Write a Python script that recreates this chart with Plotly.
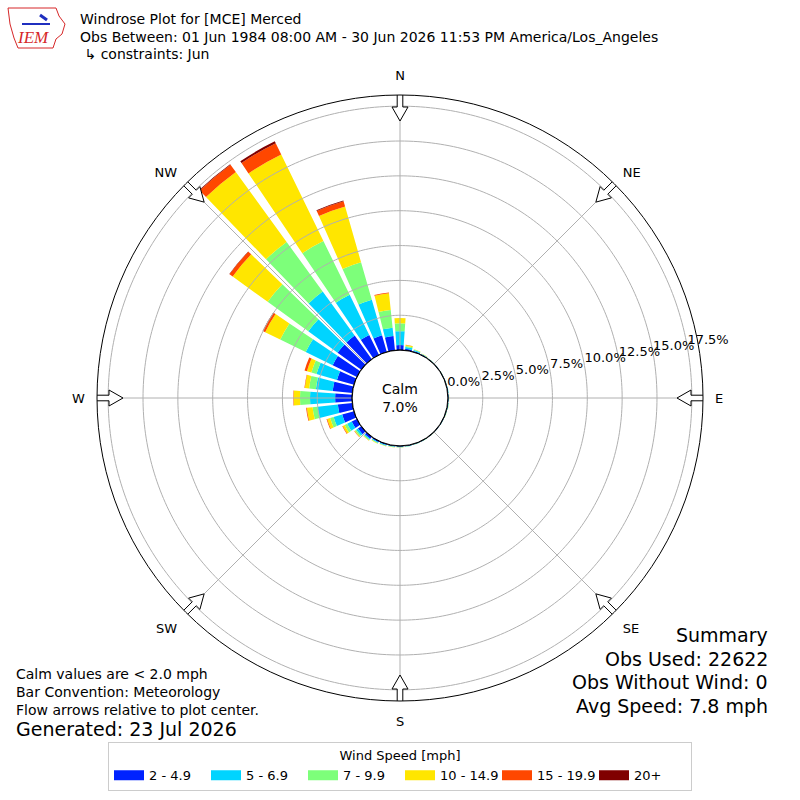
import numpy as np
import plotly.graph_objects as go

# %% data read off the reference windrose (percent of observations)
directions = [0, 10, 20, 30, 40, 50, 60, 70, 80, 90, 100, 110,
              120, 130, 140, 150, 160, 170, 180, 190, 200, 210, 220, 230,
              240, 250, 260, 270, 280, 290, 300, 310, 320, 330, 340, 350]

speed_labels = ["2 - 4.9", "5 - 6.9", "7 - 9.9", "10 - 14.9", "15 - 19.9", "20+"]
speed_colors = ["#0022ff", "#00d4ff", "#7dff7a", "#ffe600", "#ff4700", "#800000"]

pct_2_5 = [0.36, 0.12, 0.08, 0.05, 0.03, 0.03, 0.03, 0.03, 0.04, 0.05, 0.05, 0.04,
           0.03, 0.03, 0.03, 0.03, 0.04, 0.05, 0.06, 0.06, 0.08, 0.10, 0.18, 0.30,
           0.42, 0.88, 1.05, 1.22, 1.42, 1.27, 1.94, 2.10, 2.10, 1.60, 1.24, 1.03]
pct_5_7 = [1.00, 0.12, 0.06, 0.03, 0.02, 0.01, 0.01, 0.02, 0.03, 0.03, 0.03, 0.02,
           0.02, 0.01, 0.01, 0.02, 0.02, 0.03, 0.03, 0.04, 0.05, 0.06, 0.08, 0.15,
           0.36, 0.64, 1.46, 1.80, 1.21, 1.53, 2.15, 2.60, 3.90, 3.20, 2.66, 0.61]
pct_7_10 = [0.56, 0.08, 0.04, 0.02, 0.01, 0.01, 0.01, 0.01, 0.01, 0.01, 0.01, 0.01,
            0.01, 0.01, 0.01, 0.01, 0.01, 0.01, 0.02, 0.02, 0.03, 0.03, 0.06, 0.10,
            0.20, 0.26, 0.36, 0.72, 0.49, 0.38, 2.04, 3.60, 4.40, 4.30, 2.80, 1.28]
pct_10_15 = [0.38, 0.07, 0.02, 0.01, 0.00, 0.00, 0.00, 0.00, 0.00, 0.01, 0.01, 0.01,
             0.00, 0.00, 0.00, 0.00, 0.01, 0.01, 0.01, 0.02, 0.02, 0.03, 0.03, 0.05,
             0.15, 0.22, 0.42, 0.46, 0.31, 0.33, 1.20, 3.10, 6.20, 6.90, 4.15, 1.20]
pct_15_20 = [0.00, 0.01, 0.00, 0.00, 0.00, 0.00, 0.00, 0.00, 0.00, 0.00, 0.00, 0.00,
             0.00, 0.00, 0.00, 0.00, 0.00, 0.00, 0.00, 0.00, 0.00, 0.00, 0.01, 0.02,
             0.04, 0.05, 0.05, 0.03, 0.03, 0.18, 0.18, 0.28, 0.65, 0.90, 0.40, 0.06]
pct_20p = [0.00, 0.00, 0.00, 0.00, 0.00, 0.00, 0.00, 0.00, 0.00, 0.00, 0.00, 0.00,
           0.00, 0.00, 0.00, 0.00, 0.00, 0.00, 0.00, 0.00, 0.00, 0.00, 0.00, 0.00,
           0.00, 0.00, 0.00, 0.00, 0.00, 0.00, 0.02, 0.02, 0.05, 0.15, 0.05, 0.00]

compass_angles = [0, 45, 90, 135, 180, 225, 270, 315]
compass_labels = ["N", "NE", "E", "SE", "S", "SW", "W", "NW"]
ring_values = [0, 2.5, 5.0, 7.5, 10.0, 12.5, 15.0, 17.5]

calm_pct = 7.0
summary_lines = ["Summary", "Obs Used: 22622", "Obs Without Wind: 0", "Avg Speed: 7.8 mph"]
notes_lines = ["Calm values are < 2.0 mph", "Bar Convention: Meteorology",
               "Flow arrows relative to plot center."]

# %% geometry
RMAX = 18.3
HOLE = 0.158
R_PX = 303.0
C0 = RMAX * HOLE / (1 - HOLE)          # hole radius in data units
UNIT = (RMAX + C0) / R_PX              # data units per pixel
FONT = "DejaVu Sans"
GRID = "#b0b0b0"


def px(x, y):
    return x / 800, 1 - y / 800


fig = go.Figure()

series = [pct_2_5, pct_5_7, pct_7_10, pct_10_15, pct_15_20, pct_20p]
for label, color, vals in zip(speed_labels, speed_colors, series):
    fig.add_trace(go.Barpolar(
        r=vals, theta=directions, width=8, name=label, showlegend=False,
        marker=dict(color=color, line=dict(width=0)),
    ))
    # legend proxy with a wide swatch like matplotlib's patches
    fig.add_trace(go.Scatterpolar(
        r=[None], theta=[None], mode="lines", name=label,
        line=dict(color=color, width=10),
    ))

# grid rings and spokes drawn on top of the bars (matplotlib style)
circle = np.linspace(0, 360, 361)
for rv in ring_values[1:]:
    fig.add_trace(go.Scatterpolar(
        r=[rv] * len(circle), theta=circle, mode="lines",
        line=dict(color=GRID, width=1), showlegend=False, hoverinfo="skip",
    ))
for ang in compass_angles:
    fig.add_trace(go.Scatterpolar(
        r=[0, RMAX], theta=[ang, ang], mode="lines",
        line=dict(color=GRID, width=1), showlegend=False, hoverinfo="skip",
    ))
fig.add_trace(go.Scatterpolar(
    r=[0] * len(circle), theta=circle, mode="lines",
    line=dict(color="black", width=1.2), showlegend=False, hoverinfo="skip",
))

# radial labels, left-aligned at each ring, 10 degrees above east
fig.add_trace(go.Scatterpolar(
    r=ring_values, theta=[80] * len(ring_values), mode="text",
    text=[f"{v:.1f}%" for v in ring_values], textposition="top right",
    textfont=dict(size=13, color="black"), cliponaxis=False,
    showlegend=False, hoverinfo="skip",
))

# hollow flow arrows crossing the outer circle
tip, head, tail, hw, sw = 277, 291, 307, 8, 2.8
shape = [(tip, 0), (head, hw), (head, sw), (tail, sw), (tail, -sw),
         (head, -sw), (head, -hw), (tip, 0)]
for ang in compass_angles:
    rr = [np.hypot(a, p) * UNIT - C0 for a, p in shape]
    tt = [ang + np.degrees(np.arctan2(p, a)) for a, p in shape]
    fig.add_trace(go.Scatterpolar(
        r=rr, theta=tt, mode="lines", fill="toself", fillcolor="white",
        line=dict(color="black", width=1), cliponaxis=False,
        showlegend=False, hoverinfo="skip",
    ))

fig.update_layout(
    width=800, height=800,
    margin=dict(l=0, r=0, t=0, b=0),
    paper_bgcolor="white",
    font=dict(family=FONT, size=13, color="black"),
    polar=dict(
        domain=dict(x=[0.12125, 0.87875], y=[0.12375, 0.88125]),
        hole=HOLE,
        bgcolor="white",
        angularaxis=dict(
            rotation=90, direction="clockwise",
            tickmode="array", tickvals=compass_angles, ticktext=compass_labels,
            showgrid=False, showline=True, linecolor="black", linewidth=1,
            ticks="outside", ticklen=9, tickcolor="rgba(0,0,0,0)",
            tickfont=dict(size=13),
        ),
        radialaxis=dict(
            range=[0, RMAX], showgrid=False, showline=False, ticks="",
            showticklabels=False,
        ),
    ),
    legend=dict(
        orientation="h", x=0.5, xanchor="center", y=0.072, yanchor="top",
        bordercolor="#cccccc", borderwidth=1, font=dict(size=13),
        title=dict(text="Wind Speed [mph]", side="top center", font=dict(size=13)),
        traceorder="normal", entrywidth=52,
    ),
)

ann = []
# title block
for i, txt in enumerate(["Windrose Plot for [MCE] Merced",
                         "Obs Between: 01 Jun 1984 08:00 AM - 30 Jun 2026 11:53 PM America/Los_Angeles",
                         " \u21b3 constraints: Jun"]):
    x, y = px(78, 19 + 17.5 * i)
    ann.append(dict(x=x, y=y, text=txt, xanchor="left", yanchor="middle",
                    font=dict(size=14)))
# calm in the centre
ann.append(dict(x=0.5, y=px(0, 398)[1], text=f"Calm<br>{calm_pct:.1f}%",
                xanchor="center", yanchor="middle", font=dict(size=14)))
# notes bottom-left
for i, txt in enumerate(notes_lines):
    x, y = px(14, 674 + 18 * i)
    ann.append(dict(x=x, y=y, text=txt, xanchor="left", yanchor="middle",
                    font=dict(size=14)))
x, y = px(14, 729)
ann.append(dict(x=x, y=y, text="Generated: 23 Jul 2026", xanchor="left",
                yanchor="middle", font=dict(size=19)))
# summary bottom-right
for i, txt in enumerate(summary_lines):
    x, y = px(770, 635 + 23.5 * i)
    ann.append(dict(x=x, y=y, text=txt, xanchor="right", yanchor="middle",
                    font=dict(size=19)))
# logo text
x, y = px(33, 38)
ann.append(dict(x=x, y=y, text="<i>IEM</i>", xanchor="center", yanchor="middle",
                font=dict(size=17, family="Liberation Serif", color="#d62728")))
for a in ann:
    a.update(xref="paper", yref="paper", showarrow=False)
fig.update_layout(annotations=ann)

# rough state outline + station glyph for the logo
outline = [(8, 8), (56, 8), (59, 16), (65, 24), (62, 34), (56, 39), (53, 48),
           (18, 48), (14, 38), (10, 24), (8, 8)]
path = "M " + " L ".join(f"{px(a, b)[0]},{px(a, b)[1]}" for a, b in outline) + " Z"
fig.add_shape(type="path", path=path, xref="paper", yref="paper",
              line=dict(color="#d62728", width=1))
x0, y0 = px(22, 24)
x1, y1 = px(50, 24)
fig.add_shape(type="line", x0=x0, y0=y0, x1=x1, y1=y1, xref="paper", yref="paper",
              line=dict(color="#1f2fbf", width=2))
x0, y0 = px(40, 15)
x1, y1 = px(47, 20)
fig.add_shape(type="line", x0=x0, y0=y0, x1=x1, y1=y1, xref="paper", yref="paper",
              line=dict(color="#1f2fbf", width=3))

fig.write_html("out.html", config={"displayModeBar": False},
               post_script="document.body.style.margin='0';")
